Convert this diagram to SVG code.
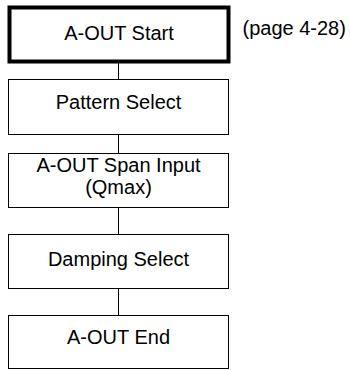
<svg xmlns="http://www.w3.org/2000/svg" width="350" height="370" viewBox="0 0 350 370">
<style>
.box{fill:#fff;stroke:#000;stroke-width:1}
.start{fill:#fff;stroke:#000;stroke-width:4}
.t{font-family:"Liberation Sans",Arial,sans-serif;font-size:20px;fill:#000;text-anchor:middle}
.c{stroke:#000;stroke-width:1;fill:none}
</style>
<rect width="350" height="370" fill="#fff"/>
<g id="connectors">
<line class="c" x1="118.5" y1="63" x2="118.5" y2="79.5"/>
<line class="c" x1="118.5" y1="134.5" x2="118.5" y2="153.5"/>
<line class="c" x1="118.5" y1="207.5" x2="118.5" y2="234.5"/>
<line class="c" x1="118.5" y1="288.5" x2="118.5" y2="315.5"/>
</g>
<g id="n1">
<rect class="start" x="9.5" y="7.5" width="219" height="54"/>
<text class="t" x="119" y="39.5">A-OUT Start</text>
</g>
<g id="note">
<text x="242.5" y="35" style="font-family:'Liberation Sans',Arial,sans-serif;font-size:20px">(page 4-28)</text>
</g>
<g id="n2">
<rect class="box" x="8.5" y="79.5" width="220" height="55"/>
<text class="t" x="118.5" y="109">Pattern Select</text>
</g>
<g id="n3">
<rect class="box" x="8.5" y="153.5" width="220" height="54"/>
<text class="t" x="118.5" y="172">A-OUT Span Input</text>
<text class="t" x="118.5" y="194">(Qmax)</text>
</g>
<g id="n4">
<rect class="box" x="8.5" y="234.5" width="220" height="54"/>
<text class="t" x="118.5" y="265.5">Damping Select</text>
</g>
<g id="n5">
<rect class="box" x="8.5" y="315.5" width="220" height="53"/>
<text class="t" x="118.5" y="344">A-OUT End</text>
</g>
</svg>
